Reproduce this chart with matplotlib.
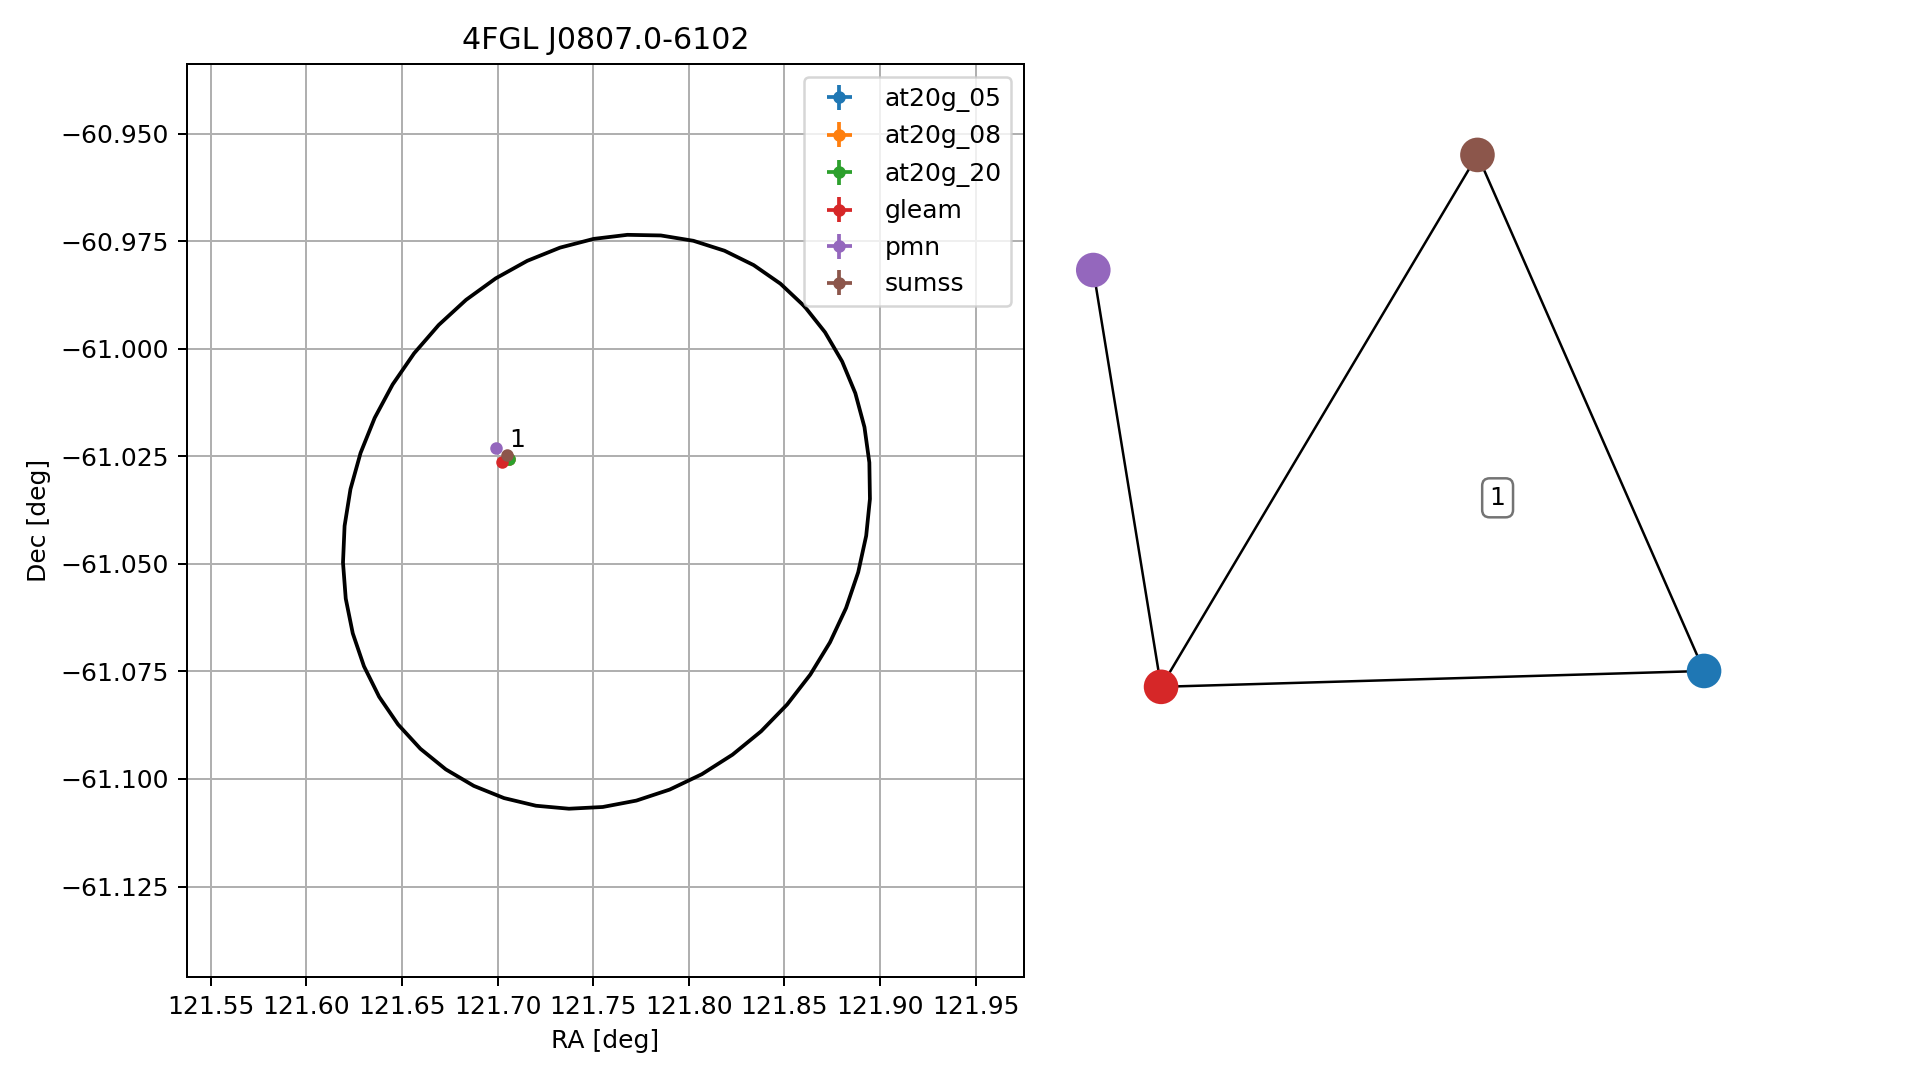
# -*- coding: utf-8 -*-

import numpy as np
import matplotlib
matplotlib.use("Agg")
import matplotlib.pyplot as plt
from matplotlib.ticker import MultipleLocator

# source positions (deg)
catalogs = ["at20g_05", "at20g_08", "at20g_20", "gleam", "pmn", "sumss"]
ra = [121.7061, 121.7061, 121.7061, 121.7024, 121.6991, 121.7050]
dec = [-61.0257, -61.0257, -61.0257, -61.0264, -61.0231, -61.0247]
ra_err = [0.0002, 0.0002, 0.0002, 0.0003, 0.0003, 0.0003]
dec_err = [0.0001, 0.0001, 0.0001, 0.0002, 0.0002, 0.0002]

# 4FGL error ellipse
fgl_name = "4FGL J0807.0-6102"
fgl_ra = 121.757
fgl_dec = -61.0402
fgl_a = 0.0708
fgl_b = 0.0624
fgl_ang = 45.0

# cluster label
cluster_ids = ["1"]
cluster_ra = [121.706]
cluster_dec = [-61.0228]

# graph of matches (layout coordinates)
node_names = ["at20g_05", "gleam", "pmn", "sumss"]
node_colors = ["tab:blue", "tab:red", "tab:purple", "tab:brown"]
node_x = [1.0, -0.778, -1.0, 0.258]
node_y = [-0.819, -0.871, 0.494, 0.871]
edges = [("pmn", "gleam"), ("gleam", "sumss"), ("sumss", "at20g_05"), ("gleam", "at20g_05")]
graph_label_x = [0.324]
graph_label_y = [-0.252]

plt.rcParams["font.size"] = 10

fig = plt.figure(figsize=(1919 / 180, 1080 / 180), dpi=180)
ax = fig.add_axes([0.0973, 0.0951, 0.4363, 0.8454])

for i, cat in enumerate(catalogs):
    ax.errorbar(ra[i], dec[i], xerr=ra_err[i], yerr=dec_err[i], fmt="o",
                markersize=4, label=cat)

t = np.linspace(0, 2 * np.pi, 50)
th = np.radians(fgl_ang)
ex = fgl_a * np.cos(t) * np.cos(th) - fgl_b * np.sin(t) * np.sin(th)
ey = fgl_a * np.cos(t) * np.sin(th) + fgl_b * np.sin(t) * np.cos(th)
ax.plot(fgl_ra + ex / np.cos(np.radians(fgl_dec)), fgl_dec + ey, color="k", lw=1.5)

for i, cid in enumerate(cluster_ids):
    ax.text(cluster_ra[i], cluster_dec[i], cid)

ax.set_xlim(121.5375, 121.9752)
ax.set_ylim(-61.1461, -60.9339)
ax.xaxis.set_major_locator(MultipleLocator(0.05))
ax.yaxis.set_major_locator(MultipleLocator(0.025))
ax.grid(True)
ax.set_axisbelow(True)
ax.set_xlabel("RA [deg]")
ax.set_ylabel("Dec [deg]")
ax.set_title(fgl_name, fontsize=12)
ax.legend(loc="upper right")

# match graph
ax2 = fig.add_axes([0.5538, 0.2993, 0.3501, 0.6220])
ax2.axis("off")
ax2.set_xlim(-1.1, 1.1)
ax2.set_ylim(-1.1, 1.1)

idx = {n: i for i, n in enumerate(node_names)}
for u, v in edges:
    ax2.plot([node_x[idx[u]], node_x[idx[v]]], [node_y[idx[u]], node_y[idx[v]]],
             color="k", lw=1.0, zorder=1, clip_on=False)
ax2.scatter(node_x, node_y, s=165, c=node_colors, zorder=2, clip_on=False)

for i, cid in enumerate(cluster_ids):
    ax2.text(graph_label_x[i], graph_label_y[i], cid, ha="center", va="center",
             bbox=dict(boxstyle="round", fc="white", ec="0.45"))

fig.savefig("out.png", dpi=180)
